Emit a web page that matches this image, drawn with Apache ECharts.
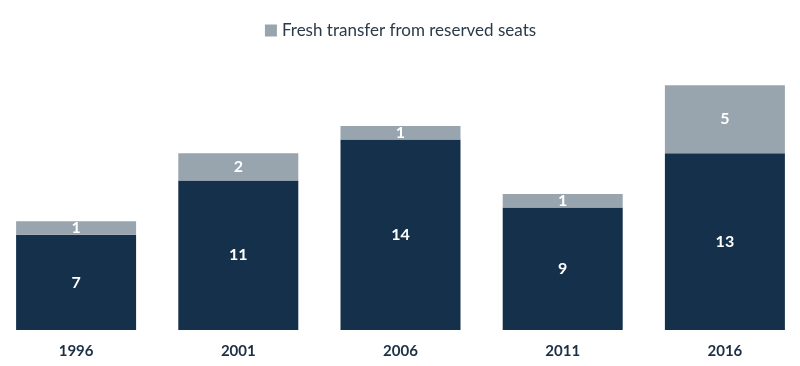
<!DOCTYPE html>
<html>
<head>
<meta charset="utf-8">
<script src="https://cdn.jsdelivr.net/npm/echarts@6/dist/echarts.min.js"></script>
<style>
html,body{margin:0;padding:0;background:#fff;overflow:hidden;}
#chart{width:811px;height:366px;margin-left:-5px;}
</style>
</head>
<body>
<div id="chart"></div>
<script>
const categories = ['1996', '2001', '2006', '2011', '2016'];
const baseSeats = [7, 11, 14, 9, 13];
const freshTransfer = [1, 2, 1, 1, 5];
const baseName = 'Seats';
const freshName = 'Fresh transfer from reserved seats';

const chart = echarts.init(document.getElementById('chart'), null, {renderer: 'canvas'});
const labelStyle = {
  show: true,
  position: 'inside',
  color: '#ffffff',
  fontFamily: 'Lato',
  fontWeight: 'bold',
  fontSize: 16
};
chart.setOption({
  animation: false,
  textStyle: {fontFamily: 'Lato'},
  legend: {
    data: [freshName],
    top: 17,
    left: 'center',
    itemWidth: 12,
    itemHeight: 12,
    itemGap: 10,
    icon: 'rect',
    textStyle: {fontFamily: 'Lato', fontSize: 17, color: '#2b3a48'}
  },
  grid: {left: 0, right: 0, top: 58, bottom: 36, containLabel: false},
  xAxis: {
    type: 'category',
    data: categories,
    axisLine: {show: false},
    axisTick: {show: false},
    axisLabel: {
      margin: 14,
      fontFamily: 'Lato',
      fontWeight: 'bold',
      fontSize: 15,
      color: '#1b2f45'
    }
  },
  yAxis: {
    type: 'value',
    min: 0,
    max: 20,
    show: false,
    splitLine: {show: false}
  },
  series: [
    {
      name: baseName,
      type: 'bar',
      stack: 'total',
      data: baseSeats,
      barWidth: 120,
      itemStyle: {color: '#14304a'},
      label: labelStyle
    },
    {
      name: freshName,
      type: 'bar',
      stack: 'total',
      data: freshTransfer,
      barWidth: 120,
      itemStyle: {color: '#98a5ae'},
      label: labelStyle
    }
  ]
});
</script>
</body>
</html>
